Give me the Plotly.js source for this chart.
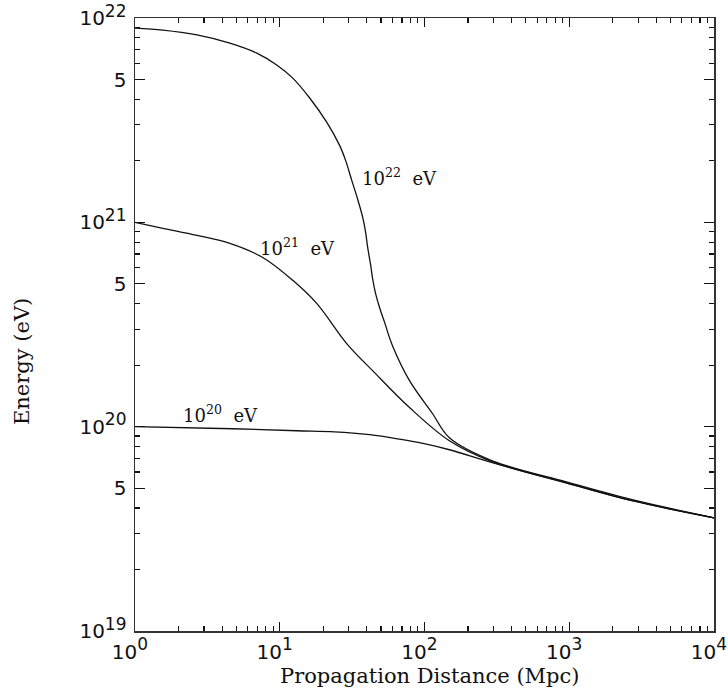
<!DOCTYPE html>
<html>
<head>
<meta charset="utf-8">
<script src="https://cdn.plot.ly/plotly-3.0.1.min.js"></script>
<style>html,body{margin:0;padding:0;background:#fff;}#chart{width:728px;height:695px;}</style>
</head>
<body>
<div id="chart"></div>
<script>
// Propagation distance (Mpc) and energy (eV)
const dist22 = [1, 1.56, 2.68, 4.52, 6.94, 9.53, 12.3, 16.1, 21.1, 25.9, 28.5, 31.4, 34.5, 37.4, 39.2, 40.4, 42.4, 43.8, 45.9, 48.9, 53.0, 60.1, 78.8, 113.5, 148.6, 294, 953, 2720, 10000];
const energy22 = [8.93e21, 8.73e21, 8.26e21, 7.53e21, 6.73e21, 5.89e21, 5.08e21, 4.06e21, 3.09e21, 2.38e21, 2.01e21, 1.61e21, 1.30e21, 1.06e21, 8.93e20, 7.62e20, 6.22e20, 5.31e20, 4.49e20, 3.83e20, 3.24e20, 2.49e20, 1.68e20, 1.16e20, 8.83e19, 6.81e19, 5.37e19, 4.39e19, 3.58e19];

const dist21 = [1, 1.56, 2.68, 4.52, 7.63, 12.3, 18.0, 29.0, 43.8, 78.8, 148.6, 294, 953, 2720, 10000];
const energy21 = [1.0e21, 9.35e20, 8.63e20, 7.89e20, 6.73e20, 5.20e20, 4.01e20, 2.55e20, 1.88e20, 1.24e20, 8.53e19, 6.73e19, 5.31e19, 4.34e19, 3.58e19];

const dist20 = [1, 4.74, 13.1, 23.9, 41.8, 67.3, 99.6, 148.6, 294, 953, 2720, 10000];
const energy20 = [1.0e20, 9.77e19, 9.55e19, 9.44e19, 9.14e19, 8.69e19, 8.26e19, 7.71e19, 6.67e19, 5.31e19, 4.34e19, 3.58e19];

const xMajorVals = [1, 10, 100, 1000, 10000];
const xMajorExp = ['0', '1', '2', '3', '4'];
const yMajorVals = [1e19, 5e19, 1e20, 5e20, 1e21, 5e21, 1e22];
const yMajorExp = ['19', null, '20', null, '21', null, '22'];

const curveLabels = ['10<sup>22</sup>&nbsp;&nbsp;eV', '10<sup>21</sup>&nbsp;&nbsp;eV', '10<sup>20</sup>&nbsp;&nbsp;eV'];
const xTitle = 'Propagation Distance (Mpc)';
const yTitle = 'Energy (eV)';

const pow10 = e => '10<sup><span style="font-size:17px">' + e + '</span></sup>';
const xMajorText = xMajorExp.map(pow10);
const yMajorText = yMajorExp.map(e => e === null ? '5' : pow10(e));

const line = {color: '#111', width: 1.3, shape: 'spline', smoothing: 1};
const traces = [
  {x: dist22, y: energy22, mode: 'lines', line: line, hoverinfo: 'skip'},
  {x: dist21, y: energy21, mode: 'lines', line: line, hoverinfo: 'skip'},
  {x: dist20, y: energy20, mode: 'lines', line: line, hoverinfo: 'skip'}
];

const tickFont = {family: 'DejaVu Sans, Liberation Sans, sans-serif', size: 20, color: '#111'};
const serif = 'DejaVu Serif, Liberation Serif, serif';
const axisLine = {showline: true, linecolor: '#333', linewidth: 1.5, mirror: 'ticks', showgrid: false, zeroline: false};
const minorTicks = {ticks: 'inside', ticklen: 5, tickwidth: 1.2, tickcolor: '#111', dtick: 'D1', showgrid: false};

const layout = {
  width: 728, height: 695,
  margin: {l: 135, r: 14, t: 18, b: 64},
  paper_bgcolor: '#fff', plot_bgcolor: '#fff',
  showlegend: false,
  xaxis: Object.assign({
    type: 'log', range: [0, 4],
    tickmode: 'array', tickvals: xMajorVals, ticktext: xMajorText,
    ticks: 'inside', ticklen: 9, tickwidth: 1.2, tickcolor: '#111',
    minor: minorTicks,
    ticklabeloverflow: 'allow', ticklabelstandoff: 2, ticklabelshift: -5,
    tickfont: tickFont
  }, axisLine),
  yaxis: Object.assign({
    type: 'log', range: [19, 22],
    tickmode: 'array', tickvals: yMajorVals, ticktext: yMajorText,
    ticks: 'inside', ticklen: 10, tickwidth: 1.2, tickcolor: '#111',
    minor: minorTicks,
    ticklabeloverflow: 'allow', ticklabelstandoff: 3,
    tickfont: tickFont
  }, axisLine),
  annotations: [
    {x: Math.log10(67.3), y: Math.log10(1.66e21), xref: 'x', yref: 'y', text: curveLabels[0], showarrow: false,
     font: {family: serif, size: 18, color: '#111'}},
    {x: Math.log10(13.3), y: Math.log10(7.6e20), xref: 'x', yref: 'y', text: curveLabels[1], showarrow: false,
     font: {family: serif, size: 18, color: '#111'}},
    {x: Math.log10(3.92), y: Math.log10(1.16e20), xref: 'x', yref: 'y', text: curveLabels[2], showarrow: false,
     font: {family: serif, size: 18, color: '#111'}},
    {x: 0.509, y: -0.074, xref: 'paper', yref: 'paper', text: xTitle, showarrow: false, xanchor: 'center', yanchor: 'middle',
     font: {family: serif, size: 21, color: '#111'}},
    {x: -0.195, y: 0.439, xref: 'paper', yref: 'paper', text: yTitle, showarrow: false, textangle: -90,
     xanchor: 'center', yanchor: 'middle',
     font: {family: serif, size: 21, color: '#111'}}
  ]
};

Plotly.newPlot('chart', traces, layout, {staticPlot: true, displayModeBar: false});
</script>
</body>
</html>
